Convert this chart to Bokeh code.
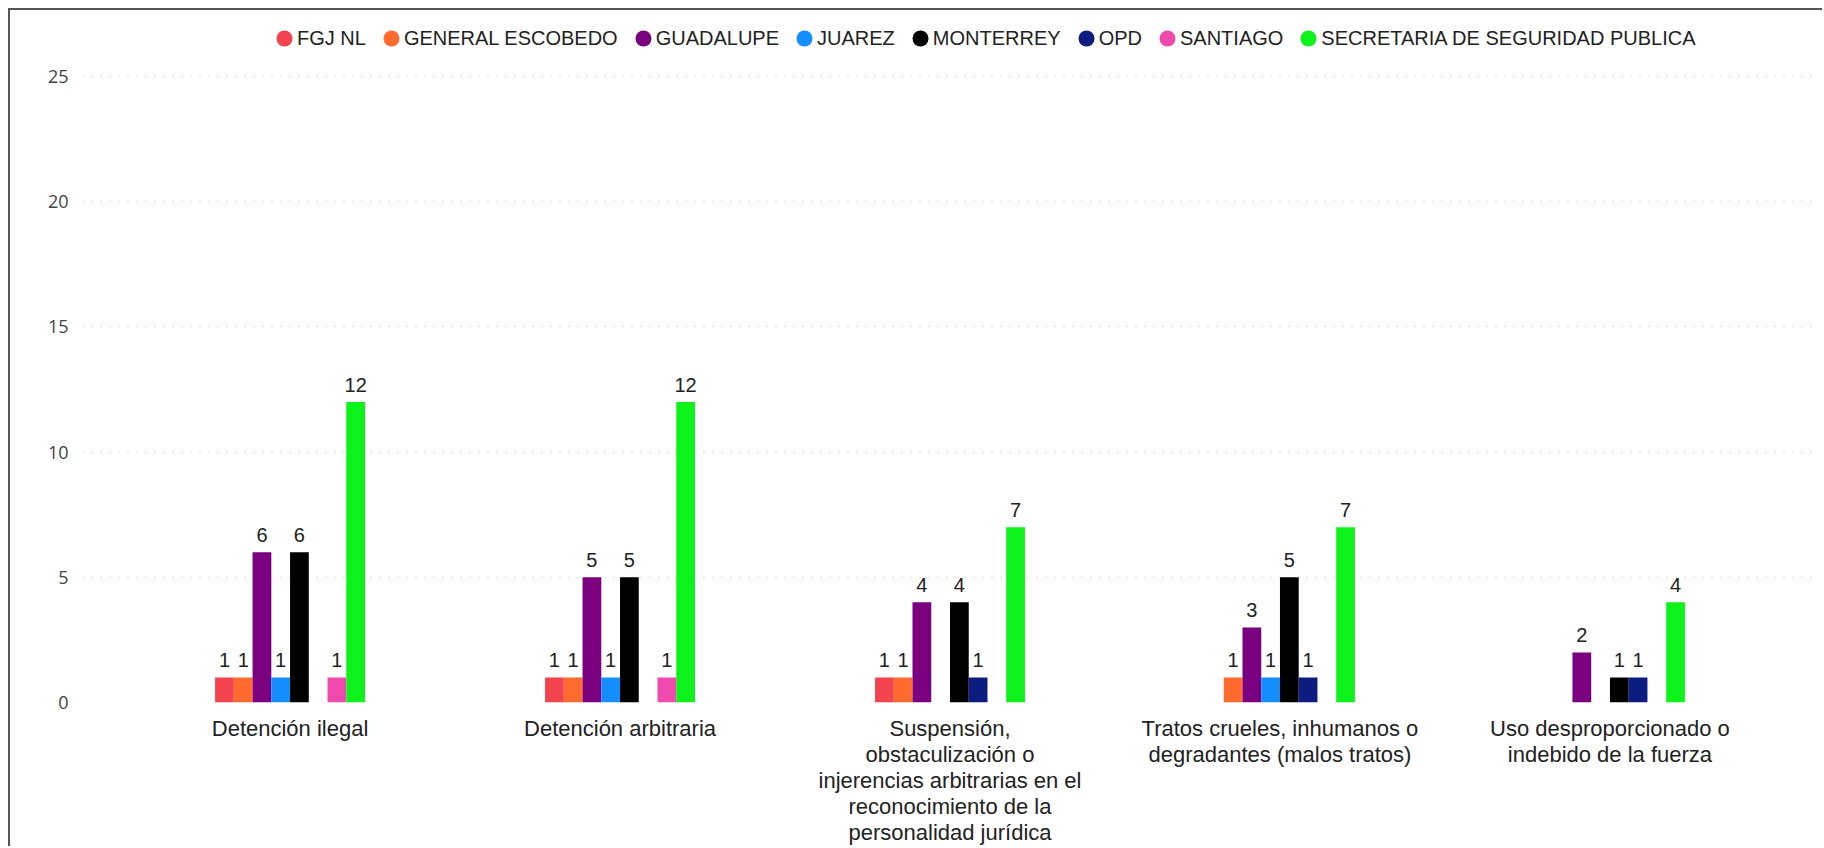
from bokeh.plotting import figure
from bokeh.models import (FactorRange, Range1d, ColumnDataSource, LabelSet, Legend,
                          LegendItem, FixedTicker)
from bokeh.core.properties import value
from bokeh.transform import dodge
from bokeh.embed import file_html
from bokeh.resources import INLINE

categories = [
    "Detención ilegal",
    "Detención arbitraria",
    "Suspensión,\nobstaculización o\ninjerencias arbitrarias en el\nreconocimiento de la\npersonalidad jurídica",
    "Tratos crueles, inhumanos o\ndegradantes (malos tratos)",
    "Uso desproporcionado o\nindebido de la fuerza",
]
series = ["FGJ NL", "GENERAL ESCOBEDO", "GUADALUPE", "JUAREZ", "MONTERREY", "OPD",
          "SANTIAGO", "SECRETARIA DE SEGURIDAD PUBLICA"]
fgj_nl = [1, 1, 1, None, None]
general_escobedo = [1, 1, 1, 1, None]
guadalupe = [6, 5, 4, 3, 2]
juarez = [1, 1, None, 1, None]
monterrey = [6, 5, 4, 5, 1]
opd = [None, None, 1, 1, 1]
santiago = [1, 1, None, None, None]
seguridad_publica = [12, 12, 7, 7, 4]
y_ticks = [0, 5, 10, 15, 20, 25]

values = [fgj_nl, general_escobedo, guadalupe, juarez, monterrey, opd, santiago, seguridad_publica]
colors = ["#F2434F", "#FF6A2E", "#7B007F", "#128EFF", "#000000", "#0C1C80", "#F04AAE", "#0DF21A"]

FONT = "Liberation Sans"

p = figure(
    width=1814, height=838,
    x_range=FactorRange(factors=categories, range_padding=0.0516, range_padding_units="percent"),
    y_range=Range1d(0, 27.48),
    output_backend="svg", toolbar_location=None,
    min_border_left=72, min_border_right=7, min_border_top=4, min_border_bottom=146,
)
p.styles = {"margin-left": "8px", "margin-top": "8px",
            "border-left": "2px solid #555555", "border-top": "2px solid #555555"}
p.outline_line_color = None
p.background_fill_color = "white"
p.border_fill_color = "white"

bar_w = 0.0568
legend_items = []
for j, (name, vals, col) in enumerate(zip(series, values, colors)):
    cats = [c for c, v in zip(categories, vals) if v is not None]
    vs = [v for v in vals if v is not None]
    src = ColumnDataSource(dict(cat=cats, val=vs, mid=[v / 2 for v in vs],
                                txt=[str(v) for v in vs]))
    off = (j - 3.5) * bar_w
    p.vbar(x=dodge("cat", off, range=p.x_range), top="val", width=bar_w, source=src,
           fill_color=col, line_color=None)
    lbl = LabelSet(x=dodge("cat", off, range=p.x_range), y="val", text="txt", source=src,
                   y_offset=10, text_align="center", text_baseline="bottom",
                   text_font=value(FONT), text_font_size="20px", text_color="#222222")
    p.add_layout(lbl)
    # 1px same-coloured dots hidden inside the bars; they only supply the round legend swatch
    r = p.ellipse(x=dodge("cat", off, range=p.x_range), y="mid", width=1, height=1,
                  width_units="screen", height_units="screen", source=src,
                  fill_color=col, line_color=None)
    legend_items.append(LegendItem(label=name, renderers=[r]))

legend = Legend(items=legend_items, orientation="horizontal", location=(192, 652),
                glyph_width=20, glyph_height=20, label_standoff=3, spacing=15,
                padding=0, margin=0, border_line_color=None, background_fill_alpha=0,
                label_text_font=FONT, label_text_font_size="20px",
                label_text_color="#222222", label_height=24)
p.add_layout(legend)

p.xgrid.visible = False
p.ygrid.grid_line_color = "#c4c4c4"
p.ygrid.grid_line_dash = "1 8"
p.ygrid.grid_line_width = 1.5
p.yaxis.ticker = FixedTicker(ticks=y_ticks)
p.yaxis.axis_line_color = None
p.yaxis.major_tick_line_color = None
p.yaxis.minor_tick_line_color = None
p.yaxis.major_tick_out = 0
p.yaxis.major_label_standoff = 14
p.yaxis.major_label_text_font = "Open Sans"
p.yaxis.major_label_text_font_size = "18px"
p.yaxis.major_label_text_color = "#444444"

p.xaxis.axis_line_color = None
p.xaxis.major_tick_line_color = None
p.xaxis.minor_tick_line_color = None
p.xaxis.major_tick_out = 0
p.xaxis.major_label_standoff = 13
p.xaxis.major_label_text_font = FONT
p.xaxis.major_label_text_font_size = "22px"
p.xaxis.major_label_text_color = "#222222"
p.xaxis.major_label_text_line_height = 1.04
p.xaxis.major_label_text_align = "center"

open("out.html", "w").write(file_html(p, INLINE))
